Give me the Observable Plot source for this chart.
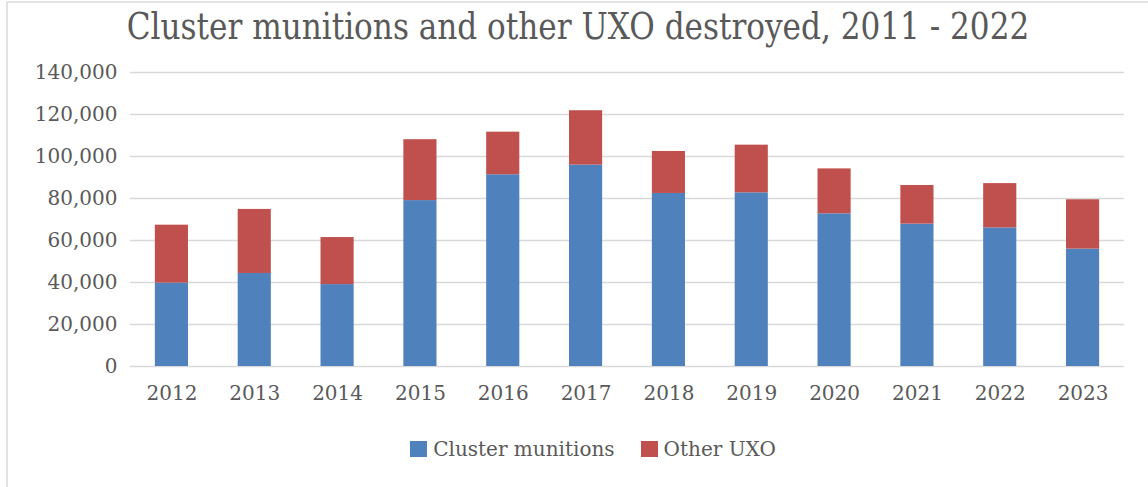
<!DOCTYPE html>
<html>
<head>
<meta charset="utf-8">
<script src="https://cdn.jsdelivr.net/npm/d3@7"></script>
<script src="https://cdn.jsdelivr.net/npm/@observablehq/plot@0.6"></script>
<style>
  html, body { margin: 0; padding: 0; background: #fff; }
  #wrap { position: relative; width: 1148px; height: 487px; overflow: hidden; background: #fff; }
  #frame { position: absolute; left: 6px; top: 1px; width: 1160px; height: 484px; border-left: 2px solid #e3e3e3; border-top: 2px solid #e3e3e3; border-bottom: 2px solid #f0f0f0; }
  #title { position: absolute; left: 4px; top: 3px; width: 1148px; text-align: center; font-family: "DejaVu Serif Condensed", "DejaVu Serif", serif; font-size: 34.6px; color: #595959; line-height: 46px; white-space: nowrap; transform: scaleY(1.08); }
  #chart { position: absolute; left: 0; top: 50px; }
  #legend { position: absolute; left: 19px; top: 437px; width: 1148px; display: flex; justify-content: center; gap: 26px; font-family: "DejaVu Serif", serif; font-size: 20px; color: #595959; }
  .item { display: flex; align-items: center; gap: 6px; }
  .sw { width: 17px; height: 16px; display: inline-block; }
</style>
</head>
<body>
<div id="wrap">
  <div id="frame"></div>
  <div id="title">Cluster munitions and other UXO destroyed, 2011 - 2022</div>
  <div id="chart"></div>
  <div id="legend"></div>
</div>
<script>
const years = ["2012","2013","2014","2015","2016","2017","2018","2019","2020","2021","2022","2023"];
const clusterMunitions = [39700, 44300, 39000, 79000, 91300, 95900, 82400, 82700, 72700, 67800, 66000, 55900];
const otherUXO = [27600, 30500, 22400, 29000, 20300, 25900, 20000, 22700, 21400, 18400, 21100, 23500];
const seriesNames = ["Cluster munitions", "Other UXO"];
const seriesColors = ["#4F81BD", "#C0504D"];
const yTicks = [0, 20000, 40000, 60000, 80000, 100000, 120000, 140000];

const rows = [];
years.forEach((y, i) => {
  rows.push({year: y, series: seriesNames[0], value: clusterMunitions[i]});
  rows.push({year: y, series: seriesNames[1], value: otherUXO[i]});
});

const chart = Plot.plot({
  width: 1148,
  height: 360,
  marginLeft: 130,
  marginRight: 24,
  marginTop: 22,
  marginBottom: 44,
  style: { fontFamily: "DejaVu Serif, serif", fontSize: "20px", color: "#595959", background: "transparent" },
  x: { domain: years, paddingInner: 0.6, paddingOuter: 0.3, round: false, label: null, tickSize: 0 },
  y: { domain: [0, 140000], ticks: yTicks, label: null, tickSize: 0, tickFormat: d3.format(",") },
  color: { domain: seriesNames, range: seriesColors },
  marks: [
    Plot.gridY(yTicks, { stroke: "#d9d9d9", strokeOpacity: 1, strokeWidth: 1.6 }),
    Plot.barY(rows, Plot.stackY({ x: "year", y: "value", fill: "series", order: seriesNames })),
    Plot.axisX({ tickSize: 0, tickPadding: 19, fill: "#595959" }),
    Plot.axisY({ ticks: yTicks, tickSize: 0, tickPadding: 13, tickFormat: d3.format(","), fill: "#595959" })
  ]
});
document.getElementById("chart").appendChild(chart);

const legend = document.getElementById("legend");
seriesNames.forEach((name, i) => {
  const item = document.createElement("div");
  item.className = "item";
  const sw = document.createElement("span");
  sw.className = "sw";
  sw.style.background = seriesColors[i];
  const t = document.createElement("span");
  t.textContent = name;
  item.appendChild(sw);
  item.appendChild(t);
  legend.appendChild(item);
});
</script>
</body>
</html>
